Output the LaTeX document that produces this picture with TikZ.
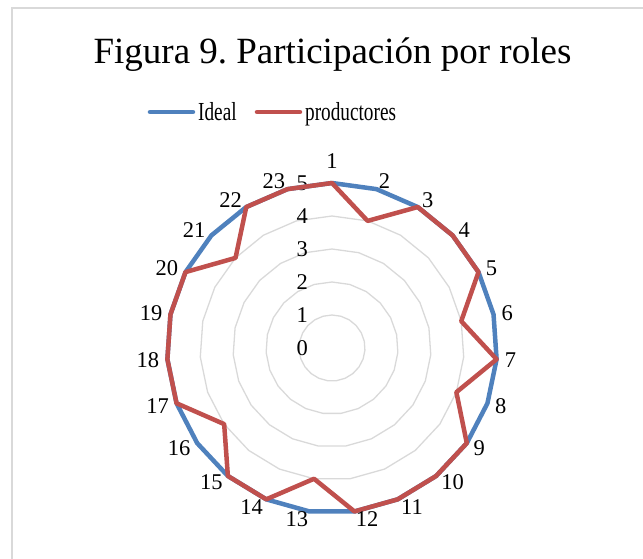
\documentclass[tikz,border=0pt]{standalone}
\usepackage{fontspec}
\setmainfont{Liberation Serif}
\frenchspacing
\definecolor{idealblue}{HTML}{4F81BD}
\definecolor{prodred}{HTML}{C0504D}
\definecolor{gridgray}{HTML}{D9D9D9}
\begin{document}
\begin{tikzpicture}[x=1pt, y=1pt,
    ring/.style={draw=gridgray, line width=1.3pt},
    series/.style={line width=4.5pt, line join=round},
    keyline/.style={line width=4.5pt, line cap=round},
    keytext/.style={anchor=base west, inner sep=0pt, font=\fontsize{26}{26}\selectfont},
    catlabel/.style={inner sep=0pt, font=\fontsize{22.5}{22.5}\selectfont},
    vallabel/.style={inner sep=0pt, anchor=east, font=\fontsize{22.5}{22.5}\selectfont}
]
\useasboundingbox (-332,-210) rectangle (311,348);
\draw[gridgray, line width=1.5pt] (-320,-215) -- (-320,340) -- (320,340);

% title and legend
\node[anchor=base, font=\fontsize{37}{40}\selectfont] (title) at (0.5,285) {Figura 9. Participación por roles};

\coordinate (ideal-a) at (-182,236);
\coordinate (ideal-b) at (-139,236);
\coordinate (prod-a) at (-75,236);
\coordinate (prod-b) at (-32,236);
\draw[keyline, idealblue] (ideal-a) -- (ideal-b);
\draw[keyline, prodred] (prod-a) -- (prod-b);
\node[keytext] (ideal) at (-134,228) {\scalebox{0.74}[1]{Ideal}};
\node[keytext] (prod) at (-27,228) {\scalebox{0.74}[1]{productores}};

% grid rings
\foreach \r in {1,...,5}
    \draw[ring] (90:{\r*33}) \foreach \k in {1,...,22} {-- ({90-\k*360/23}:{\r*33})} -- cycle;

\foreach \v in {0,...,5}
    \node[vallabel] (val\v) at (-24,{\v*33}) {\v};

% series
\foreach \k in {0,...,22}
    \coordinate (i\k) at ({90-\k*360/23}:165);
\foreach \v [count=\k from 0] in {5,4,5,5,5,4,5,4,5,5,5,5,4,5,5,4,5,5,5,5,4,5,5}
    \coordinate (p\k) at ({90-\k*360/23}:{\v*33});

\draw[series, idealblue] (i0) \foreach \k in {1,...,22} {-- (i\k)} -- cycle;
\draw[series, prodred] (p0) \foreach \k in {1,...,22} {-- (p\k)} -- cycle;

% category labels
\node[catlabel, anchor=south] (cat1) at (90:179) {1};
\foreach \k [evaluate=\k as \a using {90-(\k-1)*360/23}] in {2,...,12}
    \node[catlabel, anchor=west] (cat\k) at (\a:173) {\k};
\foreach \k [evaluate=\k as \a using {90-(\k-1)*360/23}] in {13,...,23}
    \node[catlabel, anchor=east] (cat\k) at (\a:173) {\k};

\end{tikzpicture}
\end{document}
